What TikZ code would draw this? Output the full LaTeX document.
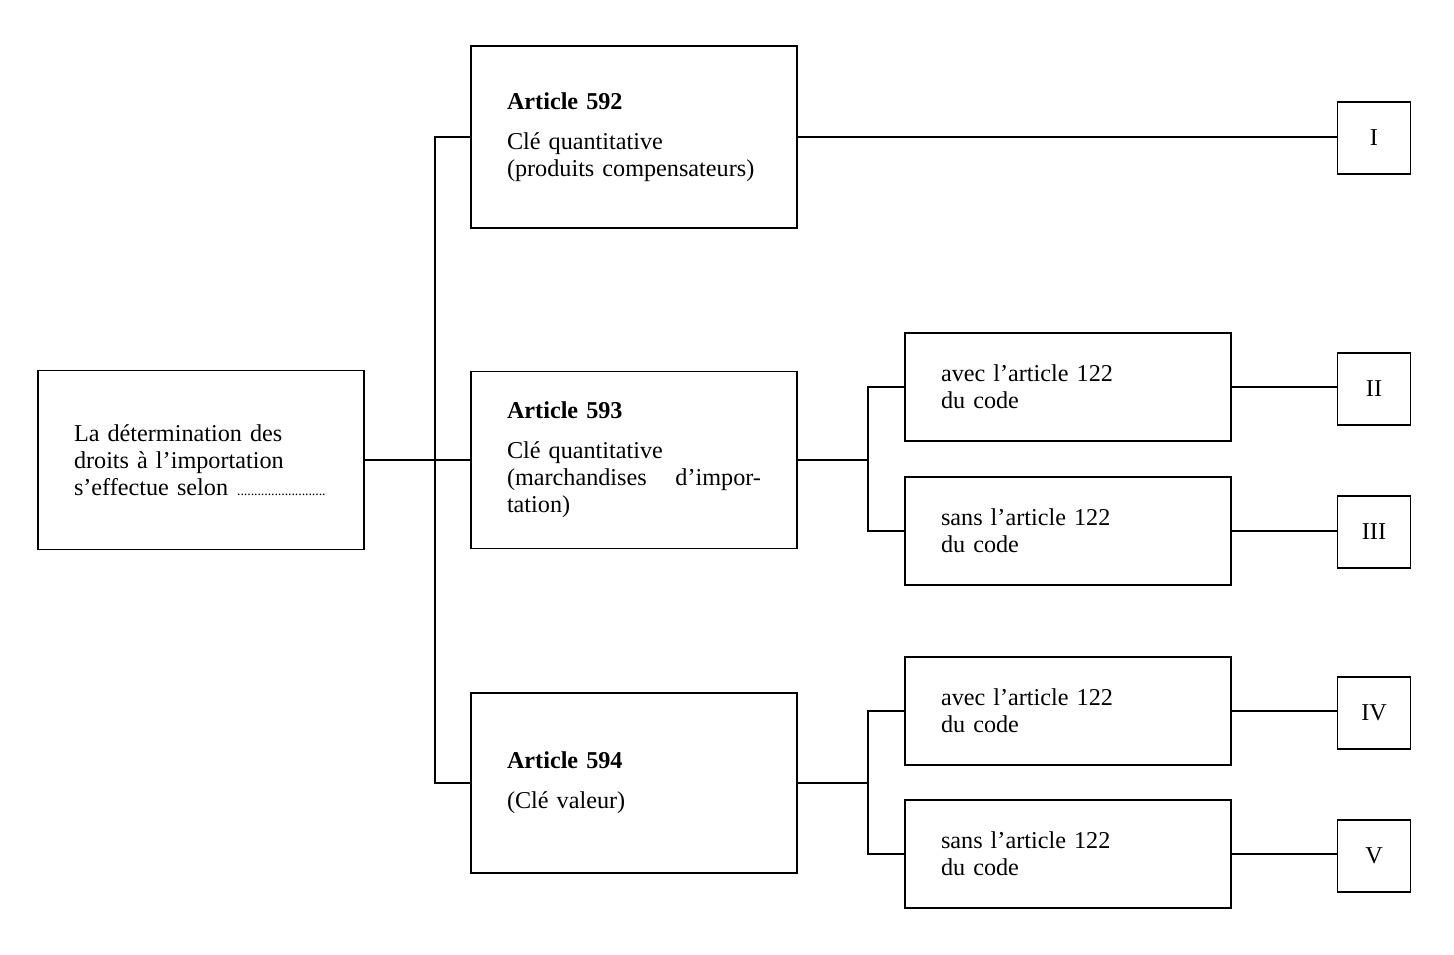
\documentclass[tikz,border=0pt]{standalone}
\usepackage{fontspec}
\setmainfont{Liberation Serif}
\usetikzlibrary{positioning}

\begin{document}
\begin{tikzpicture}[x=0.5pt,y=-0.5pt,line width=0.85pt,
    boite/.style={draw,rectangle,align=left,inner xsep=18pt,text width=127pt,
      minimum width=163pt,font=\fontsize{12.1}{13.5}\selectfont},
    romain/.style={draw,rectangle,minimum width=36.5pt,minimum height=36pt,
      font=\fontsize{12.1}{13.5}\selectfont}]
  \useasboundingbox (0,0) rectangle (1454,954);
  % boite de depart (gauche)
  \node[boite,minimum height=89.5pt] (src) at (201,460)
    {La détermination des\\droits à l'importation\\s'effectue selon
     \leaders\hbox to 1.7pt{\hss\scriptsize.\hss}\hfill\hbox{}};
  % articles 592, 593, 594
  \node[boite,minimum height=91pt] (a592) at (634,137)
    {\textbf{Article 592}\\[6.5pt]Clé quantitative\\(produits compensateurs)};
  \node[boite,minimum height=88.5pt] (a593) at (634,460)
    {\textbf{Article 593}\\[6.5pt]Clé quantitative\\(marchandises\hfill d'impor-\\tation)};
  \node[boite,minimum height=90pt] (a594) at (634,783)
    {\textbf{Article 594}\\[6.5pt](Clé valeur)};
  % avec / sans l'article 122
  \node[boite,minimum height=54pt] (av1) at (1068,387) {avec l'article 122\\du code};
  \node[boite,minimum height=54pt] (sa1) at (1068,531) {sans l'article 122\\du code};
  \node[boite,minimum height=54pt] (av2) at (1068,711) {avec l'article 122\\du code};
  \node[boite,minimum height=54pt] (sa2) at (1068,854) {sans l'article 122\\du code};
  % cases I a V
  \node[romain] (r1) at (1374,138) {I};
  \node[romain] (r2) at (1374,389) {II};
  \node[romain] (r3) at (1374,532) {III};
  \node[romain] (r4) at (1374,713) {IV};
  \node[romain] (r5) at (1374,856) {V};
  % embranchements
  \coordinate (t0) at (435,460);
  \coordinate (t1) at (868,460);
  \coordinate (t2) at (868,783);
  \draw (src) -- (a593);
  \draw (a592.west) -| (t0) |- (a594.west);
  \draw (a593.east) -- (t1);
  \draw (av1.west) -| (t1) |- (sa1.west);
  \draw (a594.east) -- (t2);
  \draw (av2.west) -| (t2) |- (sa2.west);
  % vers les cases
  \draw (a592.east) -- (a592.east -| r1.west);
  \draw (av1.east) -- (av1.east -| r2.west);
  \draw (sa1.east) -- (sa1.east -| r3.west);
  \draw (av2.east) -- (av2.east -| r4.west);
  \draw (sa2.east) -- (sa2.east -| r5.west);
\end{tikzpicture}
\end{document}
